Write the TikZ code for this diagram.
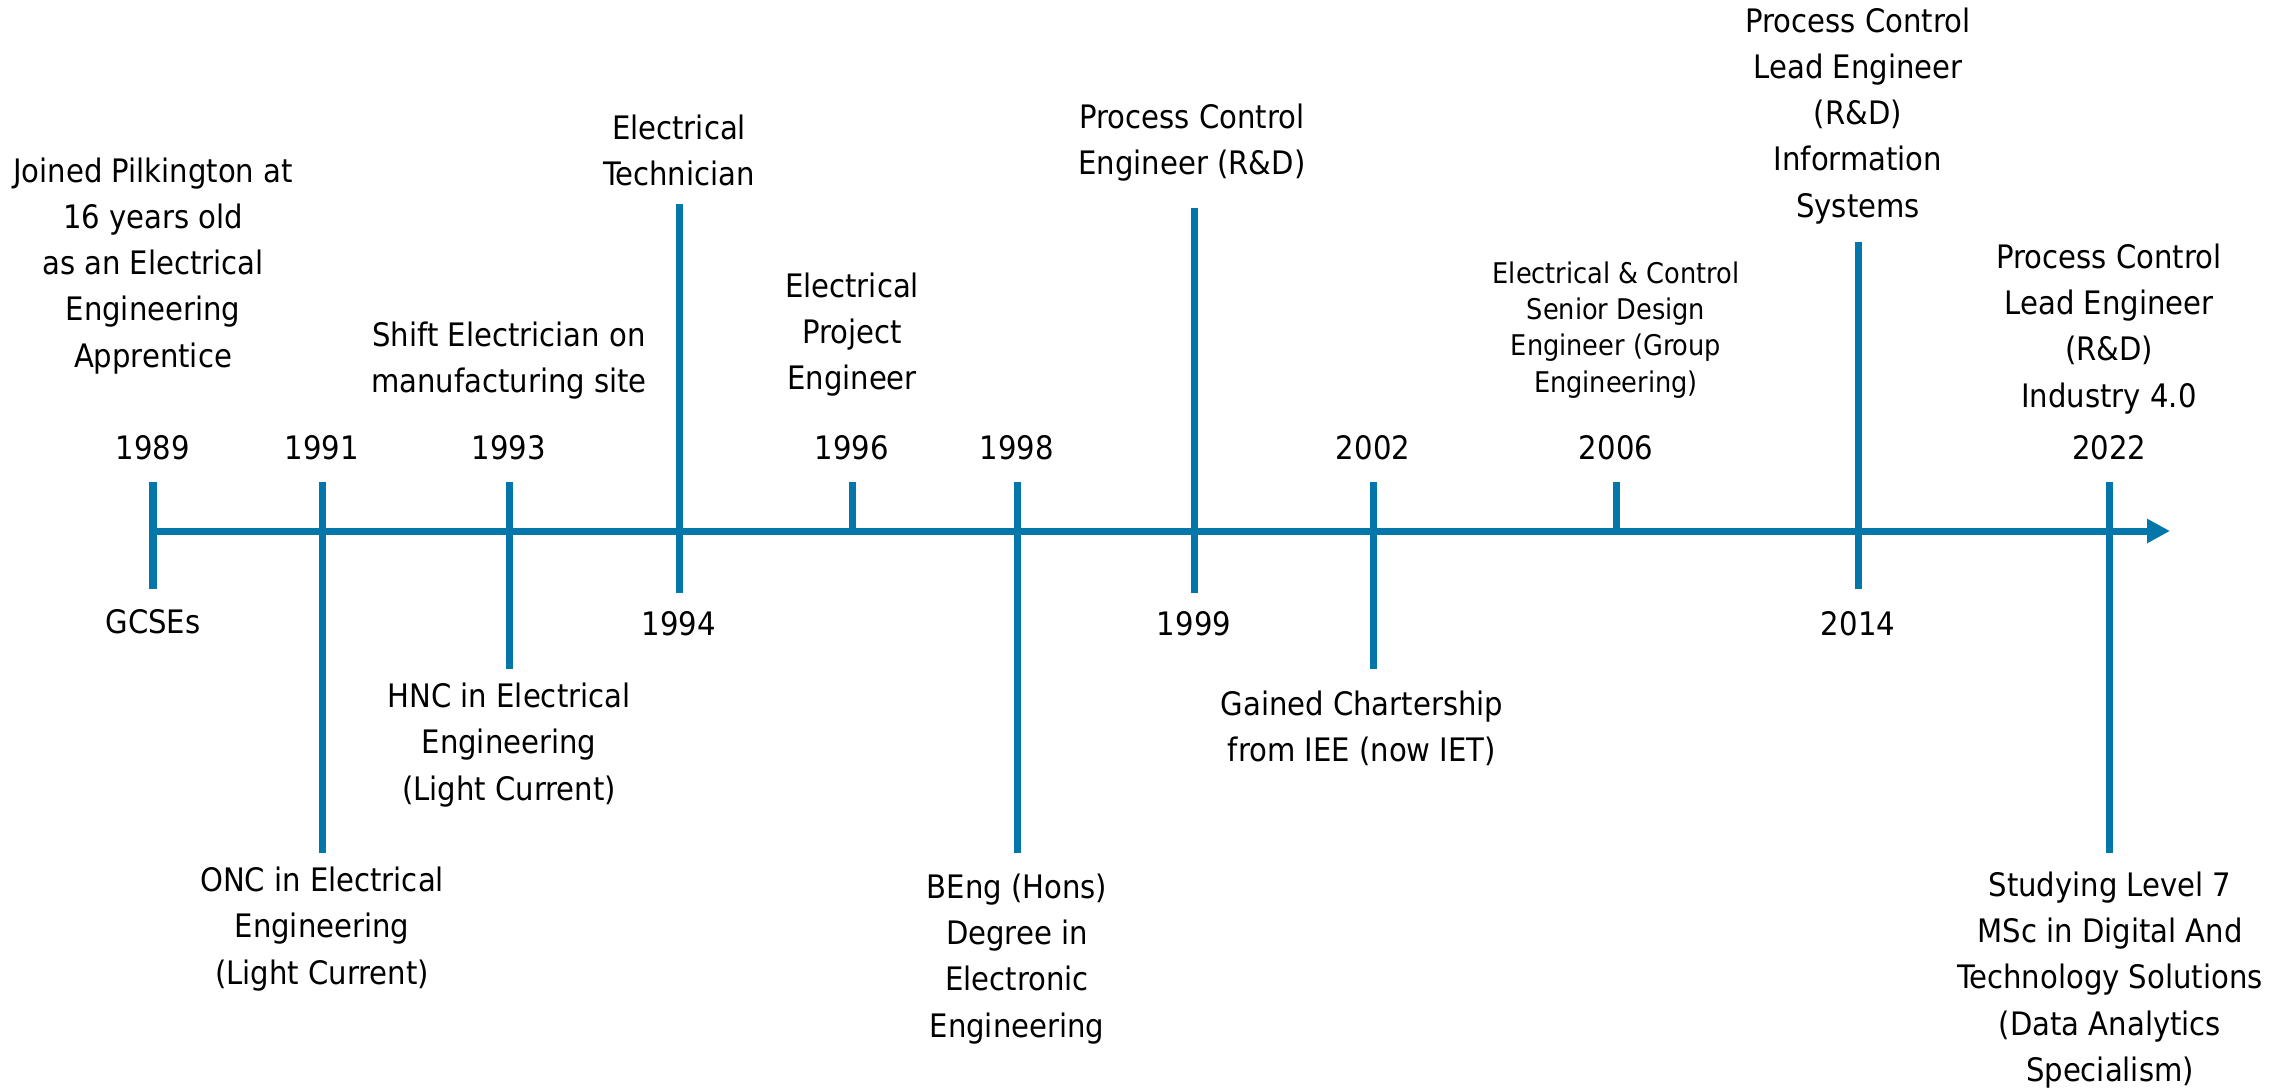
\documentclass[tikz,border=0pt]{standalone}
\usepackage{fontspec}
\setmainfont{DejaVu Sans Condensed}
\usepackage{tikz}
\usetikzlibrary{arrows.meta,positioning}
\definecolor{timelineblue}{HTML}{0377AA}
\tikzset{
  timeaxis/.style={
    -{Triangle[length=0.23cm,width=0.23cm]},
    line width=0.07cm,
    draw=timelineblue
  },
  yearline/.style={
    line width=0.07cm,
    draw=timelineblue
  },
  yearlabel/.style={
    inner sep=0pt,
    font=\fontsize{9.2pt}{13.1pt}\selectfont
  },
  milestone/.style={
    align=center,
    inner sep=0pt,
    font=\fontsize{9.2pt}{13.1pt}\selectfont
  },
  smallmilestone/.style={
    milestone,
    font=\fontsize{8.1pt}{10.3pt}\selectfont
  }
}

\begin{document}
\begin{tikzpicture}[x=0.01cm,y=-0.01cm]
  \useasboundingbox (0,0) rectangle (2285,1088);

  % main axis
  \coordinate (axisstart) at (150,531);
  \coordinate (axisend) at (2170,531);
  \draw[timeaxis] (axisstart) -- (axisend);

  % year marks
  \coordinate (m89top) at (153,482);  \coordinate (m89bot) at (153,589);
  \coordinate (m91top) at (322,482);  \coordinate (m91bot) at (322,853);
  \coordinate (m93top) at (509,482);  \coordinate (m93bot) at (509,669);
  \coordinate (m94top) at (679,204);  \coordinate (m94bot) at (679,593);
  \coordinate (m96top) at (852,482);  \coordinate (m96bot) at (852,531);
  \coordinate (m98top) at (1017,482); \coordinate (m98bot) at (1017,853);
  \coordinate (m99top) at (1194,208); \coordinate (m99bot) at (1194,593);
  \coordinate (m02top) at (1373,482); \coordinate (m02bot) at (1373,669);
  \coordinate (m06top) at (1616,482); \coordinate (m06bot) at (1616,531);
  \coordinate (m14top) at (1858,242); \coordinate (m14bot) at (1858,589);
  \coordinate (m22top) at (2109,482); \coordinate (m22bot) at (2109,853);

  \draw[yearline] (m89top) -- (m89bot);
  \draw[yearline] (m91top) -- (m91bot);
  \draw[yearline] (m93top) -- (m93bot);
  \draw[yearline] (m94top) -- (m94bot);
  \draw[yearline] (m96top) -- (m96bot);
  \draw[yearline] (m98top) -- (m98bot);
  \draw[yearline] (m99top) -- (m99bot);
  \draw[yearline] (m02top) -- (m02bot);
  \draw[yearline] (m06top) -- (m06bot);
  \draw[yearline] (m14top) -- (m14bot);
  \draw[yearline] (m22top) -- (m22bot);

  % years
  \node[yearlabel] (y89) at (153,448) {1989};
  \node[yearlabel] (y91) at (322,448) {1991};
  \node[yearlabel] (y93) at (509,448) {1993};
  \node[yearlabel] (y94) at (679,624) {1994};
  \node[yearlabel] (y96) at (852,448) {1996};
  \node[yearlabel] (y98) at (1017,448) {1998};
  \node[yearlabel] (y99) at (1194,624) {1999};
  \node[yearlabel] (y02) at (1373,448) {2002};
  \node[yearlabel] (y06) at (1616,448) {2006};
  \node[yearlabel] (y14) at (1858,624) {2014};
  \node[yearlabel] (y22) at (2109,448) {2022};

  % milestones
  \node[milestone] (joined) at (153,266) {Joined Pilkington at\\16 years old\\as an Electrical\\Engineering\\Apprentice};
  \node[milestone] (gcse) at (153,622) {GCSEs};
  \node[milestone] (onc) at (322,929) {ONC in Electrical\\Engineering\\(Light Current)};
  \node[milestone] (shift) at (509,361) {Shift Electrician on\\manufacturing site};
  \node[milestone] (hnc) at (509,745) {HNC in Electrical\\Engineering\\(Light Current)};
  \node[milestone] (tech) at (679,150) {Electrical\\Technician};
  \node[milestone] (project) at (852,335) {Electrical\\Project\\Engineer};
  \node[milestone] (beng) at (1017,959) {BEng (Hons)\\Degree in\\Electronic\\Engineering};
  \node[milestone] (pce) at (1192,143) {Process Control\\Engineer (R\&D)};
  \node[milestone] (chartered) at (1362,728) {Gained Chartership\\from IEE (now IET)};
  \node[smallmilestone] (senior) at (1616,330) {Electrical \& Control\\Senior Design\\Engineer (Group\\Engineering)};
  \node[milestone] (leadis) at (1858,116) {Process Control\\Lead Engineer\\(R\&D)\\Information\\Systems};
  \node[milestone] (leadind) at (2109,329) {Process Control\\Lead Engineer\\(R\&D)\\Industry 4.0};
  \node[milestone] (msc) at (2110,980) {Studying Level 7\\MSc in Digital And\\Technology Solutions\\(Data Analytics\\Specialism)};
\end{tikzpicture}
\end{document}
